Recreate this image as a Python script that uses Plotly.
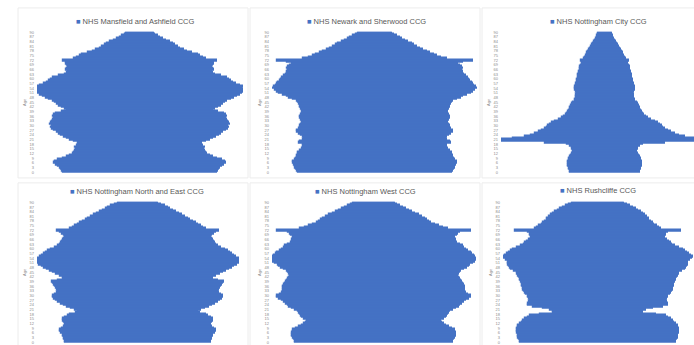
import plotly.graph_objects as go

# ---------------- data ----------------
ages = list(range(0, 91))
tick_ages = list(range(0, 91, 3))

ccg_names = [
    "NHS Mansfield and Ashfield CCG",
    "NHS Newark and Sherwood CCG",
    "NHS Nottingham City CCG",
    "NHS Nottingham North and East CCG",
    "NHS Nottingham West CCG",
    "NHS Rushcliffe CCG",
]

# relative population by single year of age (0 .. 90+)
mansfield_ashfield = [
    77, 78, 79, 80, 82, 84, 86, 85, 82, 77,
    73, 70, 67, 66, 65, 64, 65, 63, 62, 62,
    66, 70, 73, 76, 79, 81, 83, 86, 88, 89,
    88, 90, 89, 88, 87, 86, 87, 86, 84, 78,
    73, 75, 78, 81, 83, 85, 87, 91, 94, 97,
    100, 102, 103, 103, 102, 103, 100, 96, 93, 91,
    89, 87, 81, 75, 73, 72, 74, 73, 72, 73,
    74, 74, 77, 66, 63, 60, 58, 52, 47, 44,
    40, 38, 35, 33, 30, 26, 23, 20, 18, 15,
    14,
]
newark_sherwood = [
    77, 78, 79, 80, 80, 81, 82, 82, 80, 79,
    78, 78, 77, 77, 75, 73, 72, 72, 72, 76,
    75, 72, 71, 72, 74, 76, 78, 78, 76, 75,
    75, 74, 73, 73, 74, 75, 75, 74, 73, 73,
    73, 74, 75, 75, 76, 77, 78, 82, 86, 88,
    92, 96, 98, 100, 102, 101, 99, 98, 97, 95,
    94, 93, 91, 89, 88, 88, 87, 88, 87, 85,
    83, 88, 98, 72, 66, 62, 59, 55, 52, 48,
    45, 42, 39, 37, 33, 30, 27, 25, 22, 19,
    17,
]
nottingham_city = [
    35, 35, 36, 36, 37, 37, 37, 37, 36, 36,
    35, 34, 33, 32, 32, 33, 33, 35, 38, 60,
    115, 112, 92, 80, 74, 70, 66, 63, 60, 58,
    57, 55, 53, 50, 46, 43, 41, 39, 38, 37,
    36, 35, 35, 34, 33, 32, 30, 30, 29, 29,
    29, 28, 29, 30, 30, 30, 29, 29, 28, 28,
    28, 27, 27, 27, 26, 26, 25, 25, 25, 24,
    23, 23, 24, 21, 20, 19, 18, 18, 17, 16,
    15, 14, 13, 12, 11, 10, 9, 8, 8, 7,
    7,
]
nottingham_north_east = [
    73, 73, 74, 74, 75, 75, 77, 78, 78, 76,
    74, 73, 73, 74, 75, 75, 73, 70, 68, 62,
    60, 63, 67, 71, 74, 77, 80, 82, 84, 85,
    85, 83, 81, 80, 81, 82, 83, 84, 85, 86,
    80, 75, 75, 78, 82, 85, 88, 91, 94, 96,
    99, 101, 101, 101, 101, 98, 96, 94, 92, 90,
    87, 83, 80, 78, 77, 76, 75, 74, 73, 74,
    76, 78, 81, 68, 65, 63, 60, 58, 55, 52,
    50, 47, 44, 41, 38, 35, 32, 30, 27, 23,
    20,
]
nottingham_west = [
    79, 79, 80, 81, 82, 82, 82, 81, 81, 78,
    75, 72, 70, 68, 67, 70, 72, 73, 74, 75,
    76, 79, 82, 85, 86, 88, 90, 92, 95, 97,
    97, 94, 92, 91, 91, 91, 91, 90, 89, 88,
    87, 86, 85, 84, 85, 86, 87, 90, 93, 95,
    96, 99, 101, 102, 102, 101, 100, 98, 97, 94,
    92, 90, 89, 86, 83, 82, 82, 81, 81, 83,
    84, 86, 97, 74, 69, 65, 61, 57, 55, 53,
    51, 48, 45, 41, 38, 35, 32, 29, 26, 23,
    21,
]
rushcliffe = [
    78, 78, 79, 80, 80, 80, 81, 81, 81, 81,
    80, 80, 78, 76, 75, 73, 70, 68, 58, 45,
    45, 48, 55, 65, 70, 70, 69, 68, 69, 70,
    70, 72, 73, 74, 75, 75, 76, 76, 76, 77,
    78, 78, 79, 80, 81, 81, 84, 87, 88, 89,
    90, 90, 90, 92, 94, 95, 93, 91, 89, 87,
    85, 81, 77, 74, 73, 71, 69, 67, 67, 68,
    68, 70, 83, 63, 61, 59, 56, 55, 53, 51,
    51, 49, 47, 45, 43, 40, 38, 35, 32, 29,
    26,
]

series = [mansfield_ashfield, newark_sherwood, nottingham_city,
          nottingham_north_east, nottingham_west, rushcliffe]

# ---------------- layout geometry (pixels) ----------------
W, H = 694, 345
BLUE = "#4472C4"
PX_PER_UNIT = 2.0

panels = [
    dict(l=37, r=243, c=140, t=30, b=173, lx=135, ly=20, box=(18, 6, 248, 178)),
    dict(l=272, r=478, c=375, t=30, b=173, lx=366, ly=20, box=(250, 6, 480, 178)),
    dict(l=501, r=694, c=605, t=30, b=173, lx=598, ly=20, box=(482, 6, 700, 178)),
    dict(l=37, r=240, c=138, t=202, b=345, lx=137, ly=192, box=(18, 183, 248, 350)),
    dict(l=272, r=478, c=374, t=202, b=345, lx=365, ly=192, box=(250, 183, 480, 350)),
    dict(l=503, r=694, c=598, t=202, b=345, lx=598, ly=191, box=(482, 183, 700, 350)),
]

fig = go.Figure()
layout_axes = {}
annotations = []
shapes = []

for i, (name, vals, p) in enumerate(zip(ccg_names, series, panels), start=1):
    sfx = "" if i == 1 else str(i)
    fig.add_trace(go.Bar(
        y=ages, x=vals, base=[-v / 2 for v in vals], orientation="h",
        name=name, showlegend=False,
        marker=dict(color=BLUE, line=dict(width=1.2, color=BLUE)),
        xaxis="x" + sfx, yaxis="y" + sfx, hoverinfo="skip",
    ))
    layout_axes["xaxis" + sfx] = dict(
        domain=[p["l"] / W, p["r"] / W],
        range=[(p["l"] - p["c"]) / PX_PER_UNIT, (p["r"] - p["c"]) / PX_PER_UNIT],
        visible=False, fixedrange=True, anchor="y" + sfx,
    )
    layout_axes["yaxis" + sfx] = dict(
        domain=[1 - p["b"] / H, 1 - p["t"] / H],
        range=[-0.5, 90.5], tickmode="array", tickvals=tick_ages,
        tickfont=dict(size=4, color="#8c8c8c", family="Liberation Sans"),
        showgrid=False, zeroline=False, showline=False, ticks="",
        ticklabelstandoff=2,
        title=dict(text="Age", font=dict(size=4, color="#8c8c8c", family="Liberation Sans"),
                   standoff=3),
        anchor="x" + sfx, fixedrange=True,
    )
    annotations.append(dict(
        x=p["lx"] / W, y=1 - p["ly"] / H, xref="paper", yref="paper",
        xanchor="center", yanchor="middle", showarrow=False,
        text="<span style='color:%s'>■</span> %s" % (BLUE, name),
        font=dict(size=7.5, color="#595959", family="Liberation Sans"),
    ))
    x0, y0, x1, y1 = p["box"]
    shapes.append(dict(
        type="rect", xref="paper", yref="paper", layer="below",
        x0=x0 / W, x1=x1 / W, y0=1 - y1 / H, y1=1 - y0 / H,
        line=dict(color="#ececec", width=1), fillcolor="rgba(0,0,0,0)",
    ))

fig.update_layout(
    width=W, height=H, margin=dict(l=0, r=0, t=0, b=0),
    paper_bgcolor="white", plot_bgcolor="white",
    bargap=0, barmode="overlay",
    annotations=annotations, shapes=shapes,
    **layout_axes,
)

fig.write_html("out.html")
